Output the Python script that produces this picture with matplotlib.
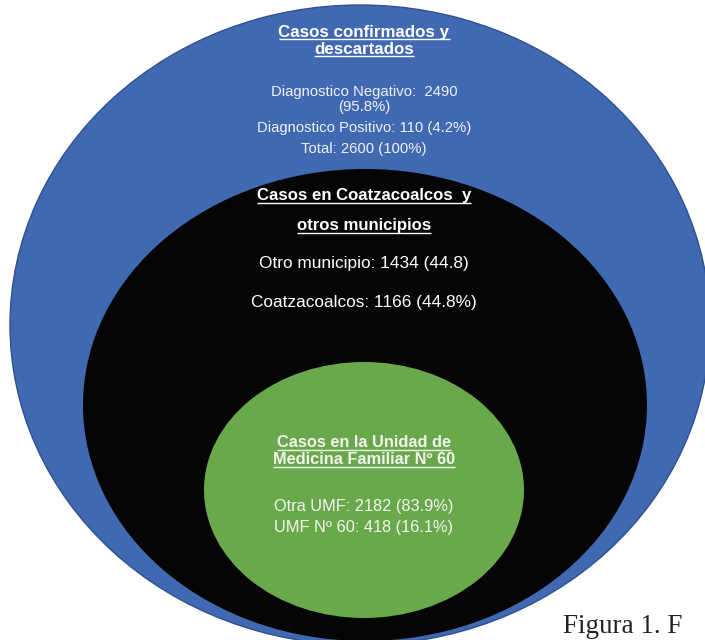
import matplotlib
matplotlib.use("Agg")
import matplotlib.pyplot as plt
from matplotlib.patches import Ellipse

# ---------------- data ----------------
level_titles = [
    ["Casos confirmados y", "descartados"],
    ["Casos en Coatzacoalcos  y", "otros municipios"],
    ["Casos en la Unidad de", "Medicina Familiar Nº 60"],
]
diag_labels = ["Diagnostico Negativo", "Diagnostico Positivo"]
diag_counts = [2490, 110]
diag_pct = [95.8, 4.2]
total_count = 2600
total_pct = 100
mun_labels = ["Otro municipio", "Coatzacoalcos"]
mun_counts = [1434, 1166]
mun_pct = ["(44.8)", "(44.8%)"]
umf_labels = ["Otra UMF", "UMF Nº 60"]
umf_counts = [2182, 418]
umf_pct = [83.9, 16.1]
caption = "Figura 1. F"

# ---------------- layout ----------------
W, H, DPI = 705, 640, 100
FONT = "Liberation Sans"
fig = plt.figure(figsize=(W / DPI, H / DPI), dpi=DPI)
ax = fig.add_axes([0, 0, 1, 1])
ax.set_xlim(0, W)
ax.set_ylim(H, 0)
ax.axis("off")

ax.add_patch(Ellipse((360, 325), 700, 640, facecolor="#4169B2",
                     edgecolor="#2F528F", lw=1.0, zorder=1))
ax.add_patch(Ellipse((365, 405), 564, 472, facecolor="#050505",
                     edgecolor="none", zorder=2))
ax.add_patch(Ellipse((364, 490), 320, 256, facecolor="#6AA84C",
                     edgecolor="none", zorder=3))

CX = 364
underlined = []


def put(y, s, size, color="white", bold=False, underline=False):
    t = ax.text(CX, y, s, ha="center", va="baseline", fontsize=size,
                color=color, family=FONT,
                fontweight="bold" if bold else "normal", zorder=5)
    if underline:
        underlined.append((t, y, size, color))
    return t


# blue level
put(36.5, level_titles[0][0], 12.2, bold=True, underline=True)
put(53.5, level_titles[0][1], 12.2, bold=True, underline=True)
bc = "#EEF2FA"
put(96, f"{diag_labels[0]}:  {diag_counts[0]}", 10.7, color=bc)
put(111, f"({diag_pct[0]}%)", 10.7, color=bc)
put(132, f"{diag_labels[1]}: {diag_counts[1]} ({diag_pct[1]}%)", 10.7, color=bc)
put(153, f"Total: {total_count} ({total_pct}%)", 10.7, color=bc)

# black level
put(200, level_titles[1][0], 12.1, bold=True, underline=True)
put(230, level_titles[1][1], 12.1, bold=True, underline=True)
put(268, f"{mun_labels[0]}: {mun_counts[0]} {mun_pct[0]}", 12.4)
put(306.5, f"{mun_labels[1]}: {mun_counts[1]} {mun_pct[1]}", 12.4)

# green level
gc = "#F2F5EE"
put(447, level_titles[2][0], 11.8, color=gc, bold=True, underline=True)
put(464, level_titles[2][1], 11.8, color=gc, bold=True, underline=True)
put(511.5, f"{umf_labels[0]}: {umf_counts[0]} ({umf_pct[0]}%)", 11.8, color=gc)
put(532, f"{umf_labels[1]}: {umf_counts[1]} ({umf_pct[1]}%)", 11.8, color=gc)

# caption
ax.text(563, 639, caption, ha="left", va="bottom", fontsize=19.5,
        family="Liberation Serif", color="#222222", zorder=6)

# underlines computed from rendered text extents
fig.canvas.draw()
renderer = fig.canvas.get_renderer()
inv = ax.transData.inverted()
for t, y, size, color in underlined:
    bb = t.get_window_extent(renderer)
    (x0, _), (x1, _) = inv.transform([(bb.x0, bb.y0), (bb.x1, bb.y0)])
    off = size * DPI / 72 * 0.17
    ax.plot([x0, x1], [y + off, y + off], color=color, lw=1.0,
            solid_capstyle="butt", zorder=5)

fig.savefig("out.png", dpi=DPI)
